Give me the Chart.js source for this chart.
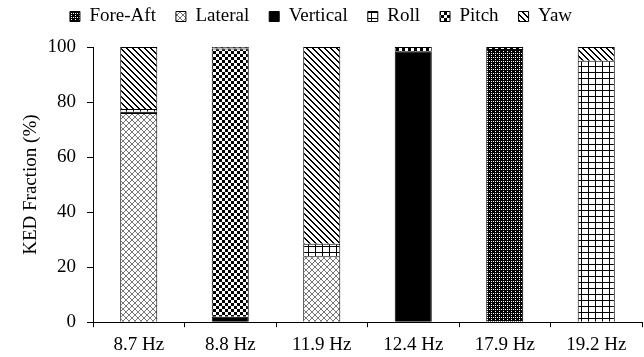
<!DOCTYPE html>
<html>
<head>
<meta charset="utf-8">
<script src="https://cdn.jsdelivr.net/npm/chart.js@4"></script>
<style>
  html, body { margin: 0; padding: 0; background: #fff; }
  #wrap { width: 644px; height: 357px; }
</style>
</head>
<body>
<div id="wrap"><canvas id="chartCanvas"></canvas></div>
<script>
const categories = ['8.7 Hz', '8.8 Hz', '11.9 Hz', '12.4 Hz', '17.9 Hz', '19.2 Hz'];
const foreAft  = [0, 0, 0, 0, 99.3, 0];
const lateral  = [76, 0, 24, 0, 0, 0];
const vertical = [0.5, 2, 0, 98.5, 0, 0];
const roll     = [1, 0, 4.5, 0, 0, 95];
const pitch    = [0, 97.5, 0, 1.5, 0.7, 0];
const yaw      = [22.5, 0.5, 71.5, 0, 0, 5];
const yTicks   = [0, 20, 40, 60, 80, 100];

// small tiles -> canvas patterns
function makePattern(w, h, draw) {
    const c = document.createElement('canvas');
    c.width = w; c.height = h;
    const g = c.getContext('2d');
    g.fillStyle = '#fff';
    g.fillRect(0, 0, w, h);
    draw(g);
    return g.createPattern(c, 'repeat');
}

const foreAftPat = makePattern(4, 4, g => {
    g.fillStyle = '#000';
    g.fillRect(0, 0, 4, 4);
    g.fillStyle = '#fff';
    g.fillRect(1, 1, 1, 1);
    g.fillRect(3, 3, 1, 1);
    g.fillRect(3, 1, 1, 1);
});
const lateralPat = makePattern(6, 6, g => {
    g.fillStyle = '#777';
    for (let i = 0; i < 6; i++) {
        g.fillRect(i, i, 1, 1);
        g.fillRect(5 - i, i, 1, 1);
    }
});
const rollPat = makePattern(7, 6, g => {
    g.fillStyle = '#000';
    g.fillRect(0, 0, 1, 6);
    g.fillRect(0, 0, 7, 1);
});
const pitchPat = makePattern(6, 6, g => {
    g.fillStyle = '#000';
    g.fillRect(0, 0, 3, 3);
    g.fillRect(3, 3, 3, 3);
});
const yawPat = makePattern(6, 6, g => {
    g.fillStyle = '#000';
    for (let y = 0; y < 6; y++) {
        for (let x = 0; x < 6; x++) {
            const d = ((x - y) % 6 + 6) % 6;
            if (d < 2) g.fillRect(x, y, 1, 1);
        }
    }
});

function ds(label, data, fill) {
    return {
        label: label,
        data: data,
        backgroundColor: fill,
        borderColor: '#000',
        borderWidth: 1,
        categoryPercentage: 1.0,
        barPercentage: 0.405
    };
}

// extra room under the legend
const legendGap = {
    id: 'legendGap',
    beforeInit(chart) {
        const fit = chart.legend.fit;
        chart.legend.fit = function () {
            fit.bind(chart.legend)();
            this.height += 11;
        };
    }
};

const serif = 'Liberation Serif, Times New Roman, serif';

new Chart(document.getElementById('chartCanvas'), {
    type: 'bar',
    data: {
        labels: categories,
        datasets: [
            ds('Fore-Aft', foreAft, foreAftPat),
            ds('Lateral', lateral, lateralPat),
            ds('Vertical', vertical, '#000'),
            ds('Roll', roll, rollPat),
            ds('Pitch', pitch, pitchPat),
            ds('Yaw', yaw, yawPat)
        ]
    },
    plugins: [legendGap],
    options: {
        responsive: true,
        maintainAspectRatio: false,
        animation: false,
        layout: { padding: { left: 0, right: 2, top: -13, bottom: -5 } },
        plugins: {
            tooltip: { enabled: false },
            legend: {
                position: 'top',
                labels: {
                    color: '#000',
                    font: { family: serif, size: 19 },
                    boxWidth: 10,
                    boxHeight: 10,
                    padding: 20
                }
            }
        },
        scales: {
            x: {
                stacked: true,
                grid: { display: true, offset: true, drawOnChartArea: false, color: '#000', tickLength: 5 },
                border: { color: '#000', width: 1 },
                ticks: { color: '#000', font: { family: serif, size: 19 }, padding: 6 }
            },
            y: {
                stacked: true,
                min: 0,
                max: 100,
                afterBuildTicks: axis => { axis.ticks = yTicks.map(v => ({ value: v })); },
                afterFit: axis => { axis.width = 93; },
                grid: { drawOnChartArea: false, color: '#000', tickLength: 6 },
                border: { color: '#000', width: 1 },
                ticks: { color: '#000', font: { family: serif, size: 19 }, padding: 11 },
                title: {
                    display: true,
                    text: 'KED Fraction (%)',
                    color: '#000',
                    font: { family: serif, size: 19 },
                    padding: { top: 20, bottom: 0 }
                }
            }
        }
    }
});
</script>
</body>
</html>
